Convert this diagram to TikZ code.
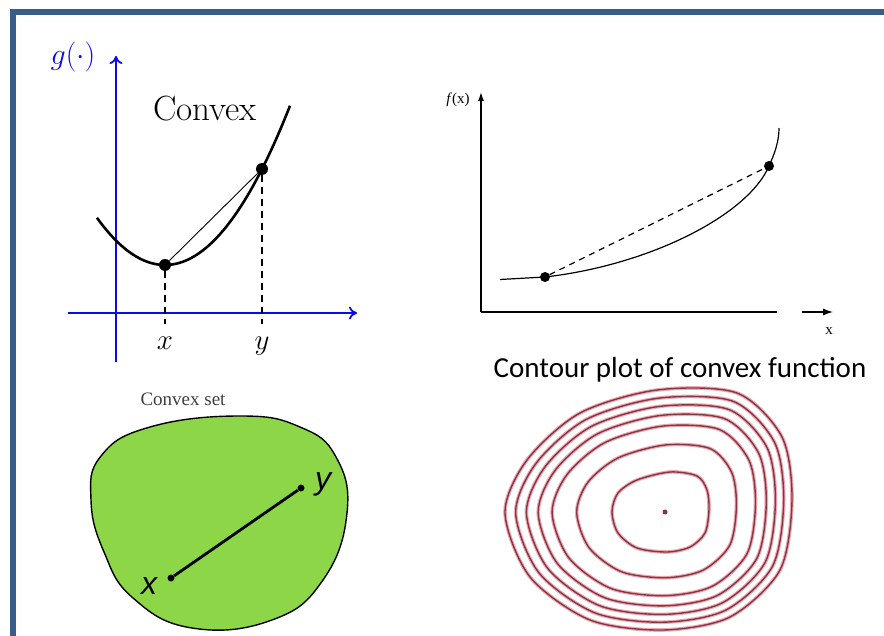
\RequirePackage{fix-cm}
\documentclass[tikz,border=0pt]{standalone}
\usepackage{fontspec}
\newfontfamily\calfont{Carlito}
\newfontfamily\tnrfont{Liberation Serif}
\newfontfamily\arialfont{Liberation Sans}
\usetikzlibrary{arrows.meta, calc}
\definecolor{framecol}{RGB}{56,93,138}
\definecolor{axblue}{RGB}{10,10,235}
\definecolor{setgreen}{RGB}{140,214,72}
\definecolor{lvlpink}{RGB}{238,168,178}
\definecolor{lvldark}{RGB}{135,55,68}
\tikzset{
  baxis/.style ={draw=axblue, line width=1.8pt, -{To[length=8pt,width=13pt]}},
  kaxis/.style ={line width=1.3pt},
  gcurve/.style={line width=2.6pt},
  fcurve/.style={line width=1.2pt},
  chord/.style ={line width=0.9pt},
  guide/.style ={line width=1.1pt, dash pattern=on 7pt off 5pt},
  fguide/.style={line width=1.2pt, dash pattern=on 6pt off 5pt},
  dot/.style   ={circle, fill, minimum size=12pt, inner sep=0pt},
  fdot/.style  ={circle, fill, minimum size=10pt, inner sep=0pt},
  sdot/.style  ={circle, fill, minimum size=7pt, inner sep=0pt},
  halo/.style  ={draw=lvlpink, line width=3.6pt},
  level/.style ={draw=lvldark, line width=1.4pt},
}

\begin{document}
\begin{tikzpicture}[x=1pt, y=-1pt]
  \useasboundingbox (0,0) rectangle (884,636);
  % --- frame --------------------------------------------------------------
  \fill[framecol] (10,9) rectangle (884,15);
  \fill[framecol] (10,9) rectangle (16,636);

  % --- convex function g --------------------------------------------------
  \coordinate (gv0) at (116,362);  \coordinate (gv1) at (116,56);
  \coordinate (gh0) at (68,313);   \coordinate (gh1) at (357,313);
  \draw[baxis] (gv0) -- (gv1);
  \draw[baxis] (gh0) -- (gh1);
  \node[text=axblue, font=\fontsize{30}{34}\selectfont, anchor=base] (glab) at (73,65) {$g(\cdot)$};
  \node[font=\fontsize{35}{40}\selectfont, anchor=base] (conv) at (205,121) {Convex};
  \draw[gcurve] plot[domain=97:290, samples=60] (\x,{265-0.0102*(\x-165)^2});
  \node[dot] (gx) at (165,265) {};
  \node[dot] (gy) at (262,169) {};
  \coordinate (gxb) at (165,324);  \coordinate (gyb) at (262,324);
  \draw[chord] (gx) -- (gy);
  \draw[guide] (gx) -- (gxb);
  \draw[guide] (gy) -- (gyb);
  \node[font=\fontsize{29}{33}\selectfont, anchor=base] (xlab) at (165,350) {$x$};
  \node[font=\fontsize{29}{33}\selectfont, anchor=base] (ylab) at (262,350) {$y$};

  % --- convex function f --------------------------------------------------
  \coordinate (fo) at (481,312);   \coordinate (fv1) at (481,92);
  \coordinate (fh1) at (777,312);
  \coordinate (fa0) at (802,312);  \coordinate (fa1) at (833,312);
  \draw[kaxis, -{Latex[length=9pt,width=6pt]}] (fo) -- (fv1);
  \draw[kaxis] (fo) -- (fh1);
  \draw[kaxis, -{Latex[length=10pt,width=7pt]}] (fa0) -- (fa1);
  \node[font=\tnrfont\fontsize{15}{17}\selectfont] (flab) at (458,100) {\textit{f}(x)};
  \node[font=\tnrfont\fontsize{15}{17}\selectfont] (fxlab) at (829,331) {x};
  \coordinate (f0) at (500,279.5);  \coordinate (f1) at (779,128);
  \node[fdot] (fx) at (545,277) {};
  \node[fdot] (fy) at (769,166) {};
  \draw[fcurve] (f0) -- (fx.center) .. controls (650,265) and (748,215) .. (fy.center)
    .. controls (775,153) and (779,141) .. (f1);
  \draw[fguide] (fx) -- (fy);

  % --- convex set ---------------------------------------------------------
  \node[font=\tnrfont\fontsize{19}{22}\selectfont, text=black!75] (cset) at (183,399) {Convex set};
  \draw[fill=setgreen, line width=1.4pt] plot[smooth cycle, tension=0.75] coordinates {
    (240,416) (150,427) (101,456) (91,500) (104,552) (133,598) (192,628)
    (272,620) (323,580) (347,513) (336,457) (300,427)};
  \node[sdot] (sx) at (171,578) {};
  \node[sdot] (sy) at (301,488) {};
  \draw[line width=2.8pt] (sx) -- (sy);
  \node[font=\arialfont\itshape\fontsize{32}{36}\selectfont] (sxlab) at (149,586) {x};
  \node[font=\arialfont\itshape\fontsize{32}{36}\selectfont] (sylab) at (323,484) {y};

  % --- contour plot -------------------------------------------------------
  \node[font=\calfont\fontsize{29}{33}\selectfont] (ctitle) at (680,370) {Contour plot of convex function};
  \foreach \n/\p in {1/{505,513}, 2/{527,460}, 3/{580,413}, 4/{657,390}, 5/{737,393}, 6/{782,437},
                     7/{792,500}, 8/{780,570}, 9/{730,617}, 10/{663,630}, 11/{590,620}, 12/{530,577}}
    \coordinate (o\n) at (\p);
  \foreach \n/\p in {1/{612,512}, 2/{618,493}, 3/{637,480}, 4/{670,472}, 5/{697,476}, 6/{707,490},
                     7/{709,510}, 8/{705,533}, 9/{690,547}, 10/{667,552}, 11/{637,548}, 12/{618,533}}
    \coordinate (i\n) at (\p);
  \foreach \t in {1,0.9,0.8,0.69,0.56,0.33,0} {
    \draw[halo] plot[smooth cycle] coordinates {($(i1)!\t!(o1)$) ($(i2)!\t!(o2)$) ($(i3)!\t!(o3)$)
      ($(i4)!\t!(o4)$) ($(i5)!\t!(o5)$) ($(i6)!\t!(o6)$) ($(i7)!\t!(o7)$) ($(i8)!\t!(o8)$)
      ($(i9)!\t!(o9)$) ($(i10)!\t!(o10)$) ($(i11)!\t!(o11)$) ($(i12)!\t!(o12)$)};
    \draw[level] plot[smooth cycle] coordinates {($(i1)!\t!(o1)$) ($(i2)!\t!(o2)$) ($(i3)!\t!(o3)$)
      ($(i4)!\t!(o4)$) ($(i5)!\t!(o5)$) ($(i6)!\t!(o6)$) ($(i7)!\t!(o7)$) ($(i8)!\t!(o8)$)
      ($(i9)!\t!(o9)$) ($(i10)!\t!(o10)$) ($(i11)!\t!(o11)$) ($(i12)!\t!(o12)$)};
  }
  \node[circle, fill=lvldark, minimum size=5pt, inner sep=0pt] (cmin) at (665,512) {};
\end{tikzpicture}
\end{document}
